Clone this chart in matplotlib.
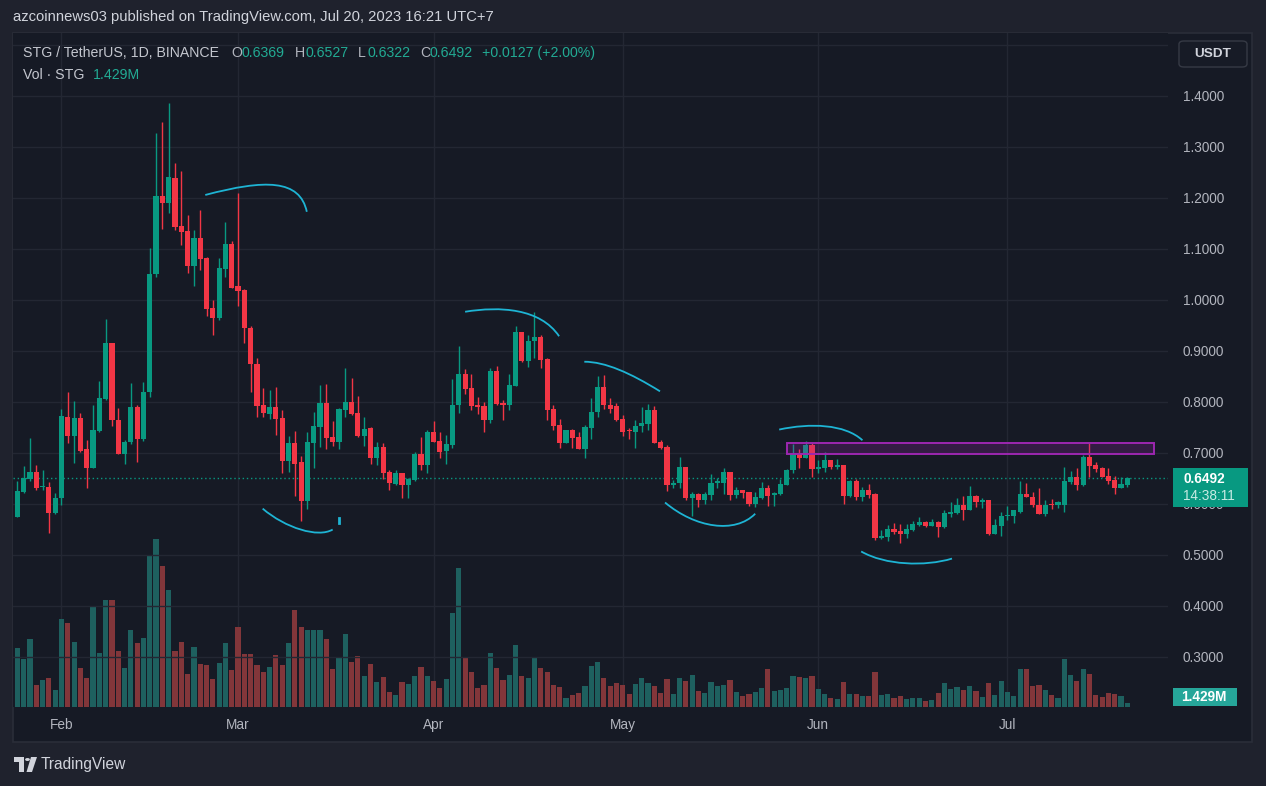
import numpy as np
import pandas as pd
import matplotlib
matplotlib.use('Agg')
import matplotlib.pyplot as plt
import matplotlib.dates as mdates
from matplotlib.patches import Rectangle, FancyBboxPatch, PathPatch, Polygon, Circle
from matplotlib.path import Path

plt.rcParams['font.family'] = ['Liberation Sans', 'DejaVu Sans']

W, H = 1266, 786

# daily candles STG/USDT, Jan 25 - Jul 20 2023
dates = pd.date_range('2023-01-25', '2023-07-20', freq='D')

opens = [0.574, 0.623, 0.649, 0.662, 0.632, 0.633, 0.582, 0.611, 0.770, 0.733,
         0.768, 0.707, 0.670, 0.743, 0.805, 0.915, 0.764, 0.698, 0.720, 0.789,
         0.727, 0.818, 1.050, 1.203, 1.189, 1.238, 1.144, 1.134, 1.066, 1.121,
         1.082, 0.984, 0.964, 1.060, 1.109, 1.026, 1.019, 0.944, 0.874, 0.793,
         0.776, 0.789, 0.768, 0.684, 0.719, 0.682, 0.604, 0.719, 0.750, 0.797,
         0.730, 0.721, 0.784, 0.799, 0.778, 0.733, 0.748, 0.689, 0.711, 0.662,
         0.638, 0.660, 0.636, 0.647, 0.697, 0.676, 0.740, 0.723, 0.703, 0.715,
         0.793, 0.854, 0.826, 0.793, 0.792, 0.764, 0.860, 0.797, 0.793, 0.831,
         0.937, 0.880, 0.918, 0.926, 0.884, 0.785, 0.754, 0.719, 0.744, 0.730,
         0.707, 0.748, 0.780, 0.829, 0.793, 0.792, 0.766, 0.744, 0.740, 0.752,
         0.756, 0.784, 0.721, 0.711, 0.636, 0.640, 0.672, 0.610, 0.618, 0.606,
         0.616, 0.640, 0.640, 0.662, 0.616, 0.627, 0.623, 0.600, 0.610, 0.630,
         0.616, 0.618, 0.637, 0.665, 0.697, 0.689, 0.715, 0.668, 0.670, 0.685,
         0.672, 0.676, 0.614, 0.644, 0.612, 0.627, 0.618, 0.533, 0.535, 0.550,
         0.546, 0.540, 0.548, 0.558, 0.564, 0.556, 0.564, 0.554, 0.580, 0.582,
         0.598, 0.588, 0.614, 0.602, 0.606, 0.540, 0.556, 0.576, 0.576, 0.584,
         0.619, 0.613, 0.598, 0.580, 0.600, 0.598, 0.598, 0.643, 0.652, 0.636,
         0.691, 0.676, 0.670, 0.654, 0.646, 0.630, 0.6369]

highs = [0.645, 0.674, 0.729, 0.676, 0.666, 0.643, 0.621, 0.785, 0.819, 0.801,
         0.777, 0.725, 0.793, 0.841, 0.962, 0.915, 0.788, 0.725, 0.837, 0.793,
         0.839, 1.101, 1.326, 1.348, 1.385, 1.268, 1.252, 1.166, 1.137, 1.176,
         1.084, 0.999, 1.082, 1.152, 1.115, 1.209, 1.021, 0.948, 0.885, 0.826,
         0.823, 0.829, 0.784, 0.733, 0.743, 0.693, 0.740, 0.780, 0.833, 0.834,
         0.762, 0.788, 0.866, 0.847, 0.811, 0.770, 0.751, 0.721, 0.719, 0.666,
         0.666, 0.660, 0.651, 0.701, 0.730, 0.744, 0.762, 0.740, 0.734, 0.844,
         0.909, 0.864, 0.854, 0.809, 0.799, 0.866, 0.870, 0.803, 0.854, 0.948,
         0.937, 0.930, 0.976, 0.930, 0.885, 0.793, 0.766, 0.744, 0.746, 0.740,
         0.754, 0.807, 0.851, 0.852, 0.807, 0.797, 0.774, 0.748, 0.764, 0.789,
         0.795, 0.792, 0.725, 0.715, 0.647, 0.692, 0.672, 0.623, 0.620, 0.623,
         0.658, 0.651, 0.670, 0.662, 0.633, 0.627, 0.623, 0.623, 0.643, 0.636,
         0.623, 0.648, 0.668, 0.717, 0.706, 0.723, 0.719, 0.685, 0.701, 0.685,
         0.688, 0.676, 0.647, 0.648, 0.633, 0.639, 0.620, 0.548, 0.558, 0.562,
         0.560, 0.560, 0.566, 0.574, 0.566, 0.570, 0.566, 0.588, 0.602, 0.610,
         0.614, 0.634, 0.616, 0.610, 0.606, 0.570, 0.584, 0.596, 0.588, 0.644,
         0.640, 0.623, 0.630, 0.606, 0.608, 0.604, 0.672, 0.664, 0.670, 0.695,
         0.719, 0.682, 0.672, 0.670, 0.654, 0.652, 0.6527]

lows = [0.574, 0.621, 0.644, 0.626, 0.626, 0.543, 0.580, 0.597, 0.719, 0.680,
        0.701, 0.630, 0.670, 0.741, 0.803, 0.752, 0.698, 0.677, 0.716, 0.681,
        0.723, 0.808, 1.044, 1.138, 1.170, 1.137, 1.107, 1.052, 1.026, 1.058,
        0.967, 0.930, 0.960, 1.044, 1.023, 0.988, 0.914, 0.818, 0.770, 0.770,
        0.766, 0.734, 0.660, 0.662, 0.614, 0.566, 0.590, 0.670, 0.711, 0.706,
        0.713, 0.707, 0.770, 0.774, 0.731, 0.713, 0.678, 0.676, 0.648, 0.626,
        0.636, 0.610, 0.610, 0.644, 0.666, 0.660, 0.721, 0.689, 0.678, 0.709,
        0.778, 0.815, 0.784, 0.776, 0.740, 0.758, 0.793, 0.764, 0.784, 0.830,
        0.878, 0.868, 0.885, 0.866, 0.764, 0.744, 0.709, 0.719, 0.709, 0.706,
        0.689, 0.727, 0.770, 0.785, 0.777, 0.762, 0.733, 0.726, 0.709, 0.740,
        0.744, 0.719, 0.706, 0.625, 0.630, 0.630, 0.606, 0.576, 0.594, 0.600,
        0.606, 0.630, 0.618, 0.606, 0.610, 0.610, 0.596, 0.594, 0.608, 0.596,
        0.596, 0.616, 0.637, 0.660, 0.670, 0.689, 0.652, 0.660, 0.662, 0.668,
        0.668, 0.600, 0.612, 0.606, 0.604, 0.610, 0.529, 0.531, 0.526, 0.540,
        0.523, 0.533, 0.547, 0.556, 0.554, 0.556, 0.535, 0.552, 0.574, 0.580,
        0.568, 0.588, 0.594, 0.592, 0.539, 0.540, 0.537, 0.568, 0.562, 0.582,
        0.612, 0.594, 0.580, 0.576, 0.590, 0.592, 0.584, 0.639, 0.626, 0.634,
        0.652, 0.662, 0.652, 0.639, 0.619, 0.630, 0.6322]

closes = [0.625, 0.651, 0.662, 0.631, 0.634, 0.582, 0.611, 0.772, 0.733, 0.768,
          0.703, 0.670, 0.745, 0.807, 0.915, 0.763, 0.698, 0.721, 0.789, 0.727,
          0.819, 1.051, 1.203, 1.189, 1.240, 1.143, 1.133, 1.066, 1.121, 1.080,
          0.982, 0.964, 1.062, 1.109, 1.023, 1.017, 0.944, 0.873, 0.792, 0.778,
          0.789, 0.766, 0.684, 0.719, 0.678, 0.604, 0.721, 0.752, 0.797, 0.729,
          0.721, 0.785, 0.799, 0.776, 0.733, 0.747, 0.689, 0.711, 0.660, 0.640,
          0.660, 0.636, 0.648, 0.697, 0.676, 0.740, 0.721, 0.701, 0.717, 0.793,
          0.854, 0.825, 0.792, 0.789, 0.764, 0.860, 0.795, 0.793, 0.833, 0.937,
          0.880, 0.919, 0.926, 0.882, 0.784, 0.752, 0.719, 0.744, 0.729, 0.707,
          0.750, 0.780, 0.829, 0.793, 0.786, 0.764, 0.740, 0.742, 0.752, 0.758,
          0.784, 0.719, 0.709, 0.636, 0.641, 0.672, 0.610, 0.618, 0.606, 0.618,
          0.640, 0.644, 0.662, 0.616, 0.627, 0.620, 0.600, 0.613, 0.630, 0.614,
          0.620, 0.639, 0.666, 0.697, 0.689, 0.715, 0.668, 0.672, 0.685, 0.672,
          0.676, 0.614, 0.644, 0.612, 0.627, 0.616, 0.533, 0.537, 0.550, 0.544,
          0.540, 0.550, 0.560, 0.564, 0.556, 0.564, 0.554, 0.582, 0.584, 0.598,
          0.588, 0.614, 0.602, 0.606, 0.540, 0.558, 0.576, 0.578, 0.587, 0.619,
          0.612, 0.598, 0.580, 0.598, 0.598, 0.602, 0.644, 0.652, 0.636, 0.691,
          0.674, 0.668, 0.652, 0.644, 0.630, 0.639, 0.6492]

# volume in millions of STG
volumes = [21.3, 17.3, 24.6, 7.9, 9.7, 10.6, 6.1, 31.7, 30.3, 23.5,
           14.0, 10.4, 36.0, 19.4, 38.6, 38.6, 20.2, 14.0, 27.7, 23.0,
           24.9, 54.9, 60.6, 50.9, 42.2, 20.2, 23.5, 11.9, 21.6, 15.4,
           15.2, 10.0, 15.9, 23.0, 13.3, 28.9, 19.2, 19.2, 15.2, 12.6,
           14.4, 18.7, 15.2, 23.0, 35.0, 28.9, 27.7, 27.7, 27.7, 24.6,
           13.7, 18.0, 26.3, 16.2, 18.4, 11.2, 15.4, 9.0, 10.7, 5.4,
           4.3, 9.0, 8.3, 11.2, 14.4, 11.2, 9.3, 6.9, 10.0, 33.9,
           50.1, 17.7, 12.6, 6.9, 7.9, 19.4, 14.0, 9.7, 11.6, 22.3,
           11.2, 10.4, 18.0, 14.0, 12.6, 7.9, 7.2, 3.1, 4.3, 5.0,
           7.6, 14.7, 16.2, 10.4, 7.6, 8.6, 7.9, 4.6, 8.3, 10.4,
           8.6, 7.6, 5.0, 10.0, 4.6, 10.4, 9.3, 11.6, 5.7, 5.0,
           9.0, 7.6, 7.9, 9.7, 5.4, 3.9, 4.6, 5.4, 6.9, 13.7,
           5.7, 6.1, 6.9, 11.2, 10.7, 10.4, 11.2, 6.4, 4.6, 3.1,
           2.9, 9.0, 4.6, 4.6, 3.9, 3.9, 12.6, 4.3, 4.6, 3.1,
           3.9, 2.9, 3.1, 3.1, 2.1, 2.4, 5.0, 8.6, 6.4, 7.2,
           6.1, 7.6, 5.7, 3.6, 8.6, 4.3, 9.3, 5.4, 3.9, 13.7,
           13.7, 7.6, 7.9, 6.1, 4.3, 3.1, 17.4, 11.6, 9.3, 13.7,
           11.9, 4.3, 3.6, 5.0, 4.6, 3.9, 1.429]

price_ticks = [0.3, 0.4, 0.5, 0.6, 0.7, 0.8, 0.9, 1.0, 1.1, 1.2, 1.3, 1.4]
month_ticks = ['2023-02-01', '2023-03-01', '2023-04-01', '2023-05-01', '2023-06-01', '2023-07-01']
month_labels = ['Feb', 'Mar', 'Apr', 'May', 'Jun', 'Jul']
last_price = 0.6492

# hand drawn marks: (days after Feb 1, price) bezier control points
anchor = '2023-02-01'
arc_days = [[22.8, 32.3, 37.8, 38.9],
            [31.9, 35.5, 40.7, 43.0],
            [64.0, 69.5, 75.9, 78.9],
            [82.9, 86.2, 90.2, 94.9],
            [95.7, 100.5, 106.8, 110.0],
            [113.8, 118.7, 124.2, 127.0],
            [126.8, 130.6, 136.9, 141.2]]
arc_prices = [[1.205, 1.236, 1.236, 1.172],
              [0.590, 0.552, 0.532, 0.549],
              [0.976, 0.987, 0.983, 0.928],
              [0.878, 0.878, 0.856, 0.820],
              [0.602, 0.552, 0.540, 0.580],
              [0.745, 0.758, 0.756, 0.724],
              [0.506, 0.479, 0.476, 0.492]]
tick_day, tick_prices = 44.0, [0.572, 0.561]
zone_days = [115.1, 173.2]
zone_prices = [0.698, 0.718]

UP, DOWN = '#089981', '#f23645'
PANE = '#161a25'
OUTER = '#1f222d'
GRID = '#232733'
TXT = '#b2b5be'


def fx(px):
    return px / W


def fy(py):
    return 1 - py / H


fig = plt.figure(figsize=(W / 100, H / 100), dpi=100, facecolor=OUTER)

# chart frame
fig.add_artist(Rectangle((fx(12.6), fy(742)), fx(1252) - fx(12.6), fy(33.3) - fy(742),
                         transform=fig.transFigure, facecolor=PANE, edgecolor='#2a2e39',
                         linewidth=1.2, zorder=-5))

rect = [fx(12.6), fy(707), fx(1168) - fx(12.6), fy(33.3) - fy(707)]
ax_vol = fig.add_axes(rect)
ax = ax_vol.twinx()
ax_vol.set_facecolor(PANE)

x = mdates.date2num(dates)
o = np.array(opens)
h = np.array(highs)
l = np.array(lows)
c = np.array(closes)
up = c >= o
colors = np.where(up, UP, DOWN)
vcolors = np.where(up, '#1e605f', '#82363a')

# volume
ax_vol.bar(x, volumes, width=0.82, color=vcolors, linewidth=0)
ax_vol.set_ylim(0, 243.6)
ax_vol.set_yticks([])

# grid
for p in price_ticks + [1.5]:
    ax.axhline(p, color=GRID, linewidth=1, zorder=0)
ax_vol.grid(axis='x', color=GRID, linewidth=1)
ax_vol.set_axisbelow(True)

# candles
ax.vlines(x, l, h, colors=colors, linewidth=1, zorder=3)
body_h = np.maximum(np.abs(c - o), 0.0016)
ax.bar(x, body_h, bottom=np.minimum(o, c), width=0.82, color=colors, linewidth=0, zorder=4)

ax.axhline(last_price, color=UP, linestyle=(0, (1, 2)), linewidth=1, zorder=2)

# drawings
base = mdates.date2num(pd.Timestamp(anchor))
for dd, pp in zip(arc_days, arc_prices):
    verts = [(base + d, p) for d, p in zip(dd, pp)]
    path = Path(verts, [Path.MOVETO, Path.CURVE4, Path.CURVE4, Path.CURVE4])
    ax.add_patch(PathPatch(path, facecolor='none', edgecolor='#1eb4d4', linewidth=1.3, zorder=6))
ax.plot([base + tick_day] * 2, tick_prices, color='#1eb4d4', linewidth=2, zorder=6)
ax.add_patch(Rectangle((base + zone_days[0], zone_prices[0]), zone_days[1] - zone_days[0],
                       zone_prices[1] - zone_prices[0], facecolor=(0.61, 0.15, 0.69, 0.22),
                       edgecolor='#9c27b0', linewidth=1.4, zorder=5))

ax.set_xlim(x[0] - 0.75, x[-1] + 6.45)
ax.set_ylim(0.201, 1.522)

ax.set_yticks(price_ticks)
ax.set_yticklabels([f'{p:.4f}' for p in price_ticks])
ax.tick_params(axis='y', length=0, pad=10.5, labelcolor=TXT, labelsize=9.8)
ax_vol.set_xticks(mdates.date2num(pd.to_datetime(month_ticks)))
ax_vol.set_xticklabels(month_labels)
ax_vol.tick_params(axis='x', length=0, pad=13, labelcolor=TXT, labelsize=9.8)
plt.setp(ax_vol.get_xticklabels(), va='center')
for a in (ax, ax_vol):
    for s in a.spines.values():
        s.set_visible(False)

# header
fig.text(fx(13), fy(17), 'azcoinnews03 published on TradingView.com, Jul 20, 2023 16:21 UTC+7',
         color='#d1d4dc', fontsize=10.6, va='center')
fig.text(fx(23), fy(53), 'STG / TetherUS, 1D, BINANCE', color='#c4c7cf', fontsize=10.2, va='center')
head = [(231, 'O', TXT), (241, '0.6369', '#22ab94'), (295, 'H', TXT), (305, '0.6527', '#22ab94'),
        (358, 'L', TXT), (367, '0.6322', '#22ab94'), (420, 'C', TXT), (430, '0.6492', '#22ab94'),
        (482, '+0.0127 (+2.00%)', '#22ab94')]
for px, s, col in head:
    fig.text(fx(px), fy(53), s, color=col, fontsize=10.2, va='center')
fig.text(fx(23), fy(75), 'Vol · STG', color='#c4c7cf', fontsize=10.2, va='center')
fig.text(fx(93), fy(75), '1.429M', color='#22ab94', fontsize=10.2, va='center')

# price scale boxes
fig.add_artist(FancyBboxPatch((fx(1179), fy(67)), fx(1247) - fx(1179), fy(41) - fy(67),
                              boxstyle='round,pad=0,rounding_size=0.004', transform=fig.transFigure,
                              facecolor='#171b26', edgecolor='#363a45', linewidth=1, zorder=5))
fig.text(fx(1213), fy(54), 'USDT', color='#d1d4dc', fontsize=9.7, weight='bold',
         ha='center', va='center', zorder=6)
fig.add_artist(Rectangle((fx(1172.5), fy(507)), fx(1248) - fx(1172.5), fy(468) - fy(507),
                         transform=fig.transFigure, facecolor=UP, zorder=5))
fig.text(fx(1183), fy(478.5), '0.6492', color='white', fontsize=9.8, weight='bold', va='center', zorder=6)
fig.text(fx(1183), fy(496.5), '14:38:11', color='#c9ebe4', fontsize=9.8, va='center', zorder=6)
fig.add_artist(Rectangle((fx(1172.5), fy(706)), fx(1237) - fx(1172.5), fy(688) - fy(706),
                         transform=fig.transFigure, facecolor='#26a69a', zorder=5))
fig.text(fx(1181), fy(697), '1.429M', color='white', fontsize=9.8, weight='bold', va='center', zorder=6)

# TradingView logo
logo = '#d1d4dc'
fig.add_artist(Rectangle((fx(14), fy(762)), fx(24) - fx(14), fy(757) - fy(762),
                         transform=fig.transFigure, facecolor=logo))
fig.add_artist(Rectangle((fx(19), fy(772)), fx(24) - fx(19), fy(757) - fy(772),
                         transform=fig.transFigure, facecolor=logo))
fig.add_artist(Circle((fx(27.5), fy(759.5)), 2.4 / W, transform=fig.transFigure, facecolor=logo))
fig.add_artist(Polygon([(fx(31), fy(757)), (fx(37), fy(757)), (fx(32), fy(772)), (fx(26.5), fy(772))],
                       closed=True, transform=fig.transFigure, facecolor=logo))
fig.text(fx(41), fy(765), 'TradingView', color=logo, fontsize=11.2, va='center')

fig.savefig('out.png', dpi=100, facecolor=OUTER)
